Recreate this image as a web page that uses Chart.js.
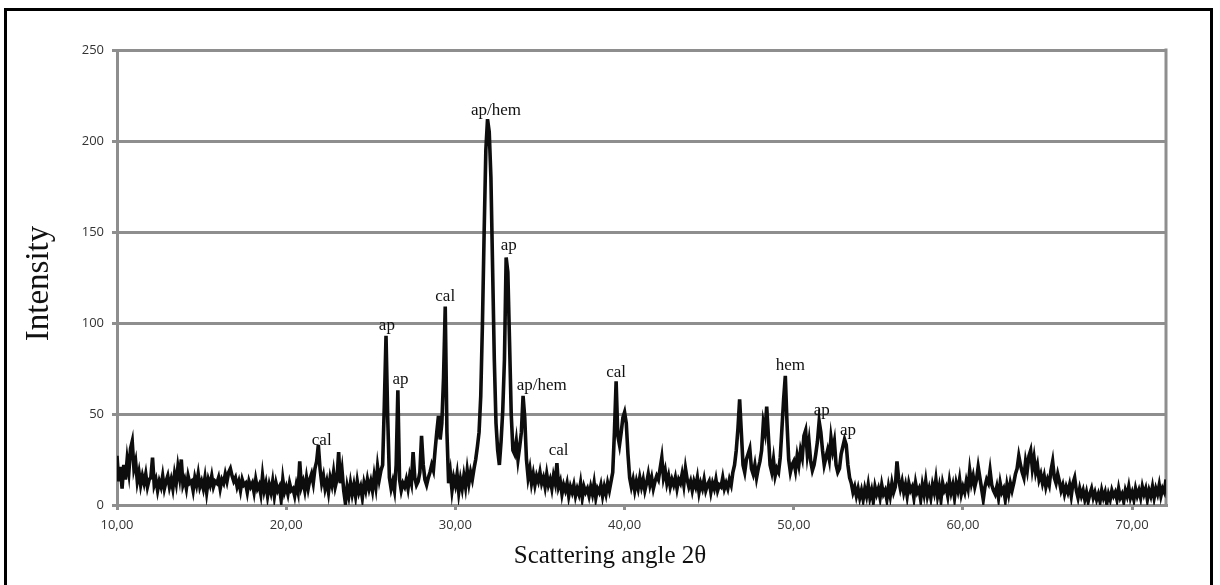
<!DOCTYPE html>
<html>
<head>
<meta charset="utf-8">
<script src="https://cdn.jsdelivr.net/npm/chart.js@4/dist/chart.umd.min.js"></script>
<style>
  html, body { margin: 0; padding: 0; background: #fff; overflow: hidden; }
  #wrap { position: relative; width: 1220px; height: 585px; }
  #frame { position: absolute; left: 4px; top: 8px; width: 1203px; height: 640px; border: 3px solid #000; pointer-events: none; }
</style>
</head>
<body>
<div id="wrap">
  <canvas id="myChart"></canvas>
  <div id="frame"></div>
</div>
<script>
// scan: 10.0 -> 72.0 degrees, step 0.1
const angleStart = 10;
const angleStep = 0.1;
const intensity = [
  27, 13, 21, 9, 22, 14, 25, 18, 31, 35,      // 10
  20, 24, 13, 18, 11, 16, 12, 17, 10, 14,     // 11
  15, 26, 11, 14, 8, 13, 10, 16, 9, 13,       // 12
  16, 10, 14, 9, 17, 12, 21, 15, 25, 11,      // 13
  14, 9, 16, 12, 13, 8, 15, 11, 17, 10,       // 14
  13, 9, 15, 7, 14, 11, 16, 10, 13, 12,       // 15
  15, 9, 14, 12, 17, 13, 18, 20, 16, 13,      // 16
  15, 10, 13, 8, 14, 11, 12, 7, 13, 10,       // 17
  12, 7, 14, 9, 11, 6, 16, 8, 12, 5,          // 18
  11, 7, 13, 5, 12, 8, 10, 3, 14, 7,          // 19
  10, 6, 12, 8, 9, 5, 11, 7, 24, 10,          // 20
  13, 8, 15, 9, 14, 17, 12, 20, 24, 33,       // 21
  20, 12, 16, 9, 13, 7, 15, 11, 18, 10,       // 22
  14, 29, 12, 19, 8, 1, 10, 5, 12, 6,         // 23
  11, 5, 13, 7, 10, 4, 12, 8, 14, 9,          // 24
  13, 8, 16, 10, 21, 14, 19, 22, 55, 93,      // 25
  48, 15, 9, 13, 8, 22, 63, 14, 8, 12,        // 26
  10, 14, 9, 16, 12, 29, 15, 11, 13, 18,      // 27
  38, 22, 14, 11, 15, 18, 22, 19, 30, 40,     // 28
  49, 36, 45, 70, 109, 40, 12, 18, 8, 15,     // 29
  11, 17, 7, 14, 9, 16, 10, 19, 12, 18,       // 30
  14, 20, 25, 32, 40, 60, 100, 150, 195, 212, // 31
  205, 180, 130, 80, 45, 30, 22, 35, 52, 80,  // 32
  136, 128, 90, 50, 30, 28, 35, 25, 32, 40,   // 33
  60, 48, 25, 15, 20, 12, 17, 11, 16, 13,     // 34
  18, 12, 15, 10, 17, 11, 14, 9, 16, 12,      // 35
  23, 10, 13, 6, 11, 8, 12, 5, 10, 7,         // 36
  11, 5, 9, 6, 12, 4, 10, 7, 9, 5,            // 37
  10, 6, 12, 4, 9, 7, 11, 5, 10, 6,           // 38
  12, 8, 13, 18, 40, 68, 38, 33, 40, 48,      // 39
  51, 45, 28, 15, 10, 14, 8, 13, 9, 15,       // 40
  10, 14, 8, 12, 17, 11, 15, 9, 13, 16,       // 41
  14, 20, 26, 15, 19, 12, 16, 10, 14, 11,     // 42
  15, 9, 14, 12, 17, 11, 20, 14, 10, 13,      // 43
  8, 13, 10, 15, 7, 12, 9, 14, 8, 11,         // 44
  13, 7, 12, 9, 14, 8, 11, 10, 15, 9,         // 45
  12, 9, 14, 11, 18, 22, 30, 42, 58, 40,      // 46
  22, 18, 25, 28, 31, 20, 17, 22, 15, 20,     // 47
  24, 30, 45, 40, 54, 38, 22, 18, 25, 16,     // 48
  20, 18, 26, 42, 58, 71, 45, 25, 18, 22,     // 49
  24, 19, 27, 22, 30, 26, 38, 41, 28, 35,     // 50
  24, 19, 22, 28, 35, 46, 40, 30, 22, 26,     // 51
  30, 25, 37, 30, 35, 22, 18, 20, 28, 32,     // 52
  36, 33, 22, 15, 12, 7, 10, 5, 9, 4,         // 53
  8, 3, 9, 5, 11, 4, 8, 2, 10, 6,             // 54
  9, 4, 11, 6, 8, 3, 10, 5, 12, 7,            // 55
  10, 24, 14, 9, 13, 7, 11, 5, 12, 8,         // 56
  10, 4, 12, 7, 9, 3, 11, 6, 13, 5,           // 57
  9, 4, 11, 7, 14, 5, 10, 3, 12, 8,           // 58
  10, 5, 13, 7, 11, 4, 12, 8, 14, 6,          // 59
  10, 7, 13, 9, 19, 12, 16, 10, 14, 21,       // 60
  15, 9, 3, 10, 14, 12, 19, 11, 8, 6,         // 61
  10, 4, 12, 7, 9, 3, 11, 6, 12, 8,           // 62
  12, 17, 20, 27, 22, 18, 15, 24, 19, 27,     // 63
  30, 20, 26, 18, 22, 14, 17, 12, 16, 10,     // 64
  14, 11, 19, 24, 15, 12, 17, 13, 8, 11,      // 65
  6, 10, 7, 11, 5, 12, 15, 8, 4, 9,           // 66
  5, 8, 3, 7, 2, 6, 9, 4, 7, 3,               // 67
  6, 2, 8, 4, 7, 1, 6, 3, 8, 5,               // 68
  7, 3, 9, 4, 6, 2, 8, 5, 10, 4,              // 69
  7, 3, 9, 5, 8, 4, 10, 6, 9, 3,              // 70
  8, 5, 10, 4, 9, 6, 11, 5, 9, 7,             // 71
  14                                          // 72
];

// phase labels: text, angle (label centre), intensity (label bottom)
const peakNames   = ['cal', 'ap', 'ap', 'cal', 'ap/hem', 'ap', 'ap/hem', 'cal', 'cal', 'hem', 'ap', 'ap'];
const peakAngles  = [22.1, 25.95, 26.75, 29.4, 32.4, 33.15, 35.1, 36.1, 39.5, 49.8, 51.65, 53.2];
const peakHeights = [31, 94, 64, 110, 212, 138, 61, 25, 68, 72, 47, 36];

const xTicks = [10, 20, 30, 40, 50, 60, 70];
const yTicks = [0, 50, 100, 150, 200, 250];
const xTitle = 'Scattering angle 2θ';
const yTitle = 'Intensity';

function myLoadFunction() {
    const ctx = document.getElementById('myChart').getContext('2d');
    const gray = '#8e8e8e';

    var points = intensity.map(function (v, i) {
        return { x: +(angleStart + i * angleStep).toFixed(1), y: v };
    });

    var extras = {
        id: 'extras',
        beforeDatasetsDraw: function (chart) {
            const c = chart.ctx, a = chart.chartArea;
            c.save();
            c.strokeStyle = gray;
            c.lineWidth = 3;
            c.beginPath();
            c.moveTo(a.right, a.top - 1.5);
            c.lineTo(a.right, a.bottom);
            c.stroke();
            c.restore();
        },
        afterDatasetsDraw: function (chart) {
            const c = chart.ctx;
            const xs = chart.scales.x, ys = chart.scales.y;
            c.save();
            c.fillStyle = '#111';
            c.font = '17px "Liberation Serif", "Times New Roman", serif';
            c.textAlign = 'center';
            c.textBaseline = 'bottom';
            for (let i = 0; i < peakNames.length; i++) {
                c.fillText(peakNames[i], xs.getPixelForValue(peakAngles[i]), ys.getPixelForValue(peakHeights[i]));
            }
            // axis titles
            c.font = '25px "Liberation Serif", "Times New Roman", serif';
            c.textBaseline = 'alphabetic';
            c.fillText(xTitle, chart.width / 2, 563);
            c.translate(48, (chart.chartArea.top + chart.chartArea.bottom) / 2 + 6);
            c.rotate(-Math.PI / 2);
            c.font = '33px "Liberation Serif", "Times New Roman", serif';
            c.fillText(yTitle, 0, 0);
            c.restore();
        }
    };

    var myChartConfig = {
        type: 'line',
        data: {
            datasets: [{
                data: points,
                borderColor: '#0d0d0d',
                borderWidth: 3.6,
                pointRadius: 0,
                tension: 0,
                fill: false
            }]
        },
        options: {
            responsive: true,
            maintainAspectRatio: false,
            animation: false,
            layout: { padding: { left: 0, top: 50, right: 54, bottom: 0 } },
            plugins: { legend: { display: false }, tooltip: { enabled: false } },
            scales: {
                x: {
                    type: 'linear',
                    min: 10,
                    max: 72,
                    afterFit: function (s) { s.height = 80; },
                    afterBuildTicks: function (s) { s.ticks = xTicks.map(function (v) { return { value: v }; }); },
                    ticks: {
                        padding: 7,
                        color: '#333',
                        font: { family: '"Open Sans"', size: 13 },
                        maxRotation: 0,
                        callback: function (v) { return v.toFixed(2).replace('.', ','); }
                    },
                    grid: { drawOnChartArea: false, drawTicks: true, tickLength: 5, color: gray, lineWidth: 3 },
                    border: { color: gray, width: 3 }
                },
                y: {
                    min: 0,
                    max: 250,
                    afterFit: function (s) { s.width = 117; },
                    afterBuildTicks: function (s) { s.ticks = yTicks.map(function (v) { return { value: v }; }); },
                    ticks: {
                        padding: 8,
                        color: '#333',
                        font: { family: '"Open Sans"', size: 13 }
                    },
                    grid: { tickLength: 5, color: gray, lineWidth: 3 },
                    border: { color: gray, width: 3 }
                }
            }
        },
        plugins: [extras]
    };

    const myChart = new Chart(ctx, myChartConfig);
}

document.addEventListener('DOMContentLoaded', myLoadFunction);
</script>
</body>
</html>
